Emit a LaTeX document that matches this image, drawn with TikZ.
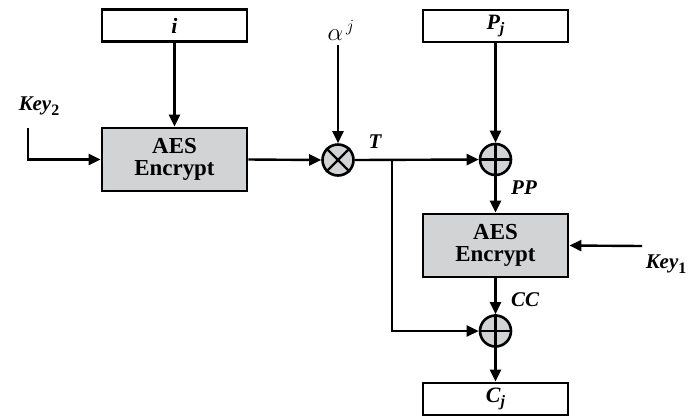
\documentclass[tikz,border=0pt]{standalone}
\usepackage{fontspec}
\setmainfont{Liberation Serif}
\usetikzlibrary{arrows.meta}
\definecolor{boxgray}{RGB}{209,211,212}
\newcommand{\sbs}[1]{\raisebox{-4.5bp}{\fontsize{16}{16}\selectfont #1}}
\begin{document}
\begin{tikzpicture}[x=1bp,y=-1bp,
  box/.style={draw, line width=2.8bp, minimum width=145bp, minimum height=32bp, inner sep=0pt,
    font=\bfseries\itshape\fontsize{22}{24}\selectfont},
  aes/.style={box, fill=boxgray, minimum height=63bp, align=center,
    font=\bfseries\fontsize{23}{23}\selectfont},
  op/.style={circle, draw, line width=2.6bp, fill=boxgray, minimum size=31bp, inner sep=0pt},
  arr/.style={line width=2.4bp, -{Triangle[length=12bp,width=11bp]}},
  ln/.style={line width=2.4bp},
  lbl/.style={inner sep=0pt, font=\bfseries\itshape\fontsize{21}{22}\selectfont}]
\useasboundingbox (0,0) rectangle (688,418);

% nodes
\node[box] (ibox) at (174.5,25.5) {i};
\node[aes] (aes1) at (174.5,159.5) {AES\\[-1pt]Encrypt};
\node[op] (mul) at (338,160) {};
\draw[ln] (mul.north west) -- (mul.south east) (mul.north east) -- (mul.south west);
\node[inner sep=0pt, font=\fontsize{25}{25}\selectfont] (alpha) at (341,30) {$\alpha^{\,j}$};
\node[box] (pbox) at (495.5,26) {P\sbs{j}};
\node[op] (xor1) at (495.5,159.5) {};
\draw[ln] (xor1.north) -- (xor1.south) (xor1.west) -- (xor1.east);
\node[aes] (aes2) at (495.5,245.5) {AES\\[-1pt]Encrypt};
\node[op] (xor2) at (495.5,331) {};
\draw[ln] (xor2.north) -- (xor2.south) (xor2.west) -- (xor2.east);
\node[box] (cbox) at (495.5,399) {C\sbs{j}};

% labels
\node[lbl] (key2) at (39,106) {Key\sbs{\upshape 2}};
\node[lbl] (key1) at (666,264) {Key\sbs{\upshape 1}};
\node[lbl] (T) at (375,142) {T};
\node[lbl] (PP) at (524,188) {PP};
\node[lbl] (CC) at (525,300) {CC};

% coordinates
\coordinate (k2s) at (28,128);
\coordinate (k1s) at (642,246);
\coordinate (br) at (392,160);
\coordinate (atop) at (338,45);

% connectors
\draw[arr] (ibox.south) -- (aes1.north);
\draw[arr] (k2s) |- (aes1.west);
\draw[arr] (aes1.east) -- (mul.west);
\draw[arr] (atop) -- (mul.north);
\draw[arr] (mul.east) -- (xor1.west);
\draw[arr] (pbox.south) -- (xor1.north);
\draw[arr] (xor1.south) -- (aes2.north);
\draw[arr] (k1s) -- (aes2.east);
\draw[arr] (aes2.south) -- (xor2.north);
\draw[arr] (br) |- (xor2.west);
\draw[arr] (xor2.south) -- (cbox.north);
\end{tikzpicture}
\end{document}
